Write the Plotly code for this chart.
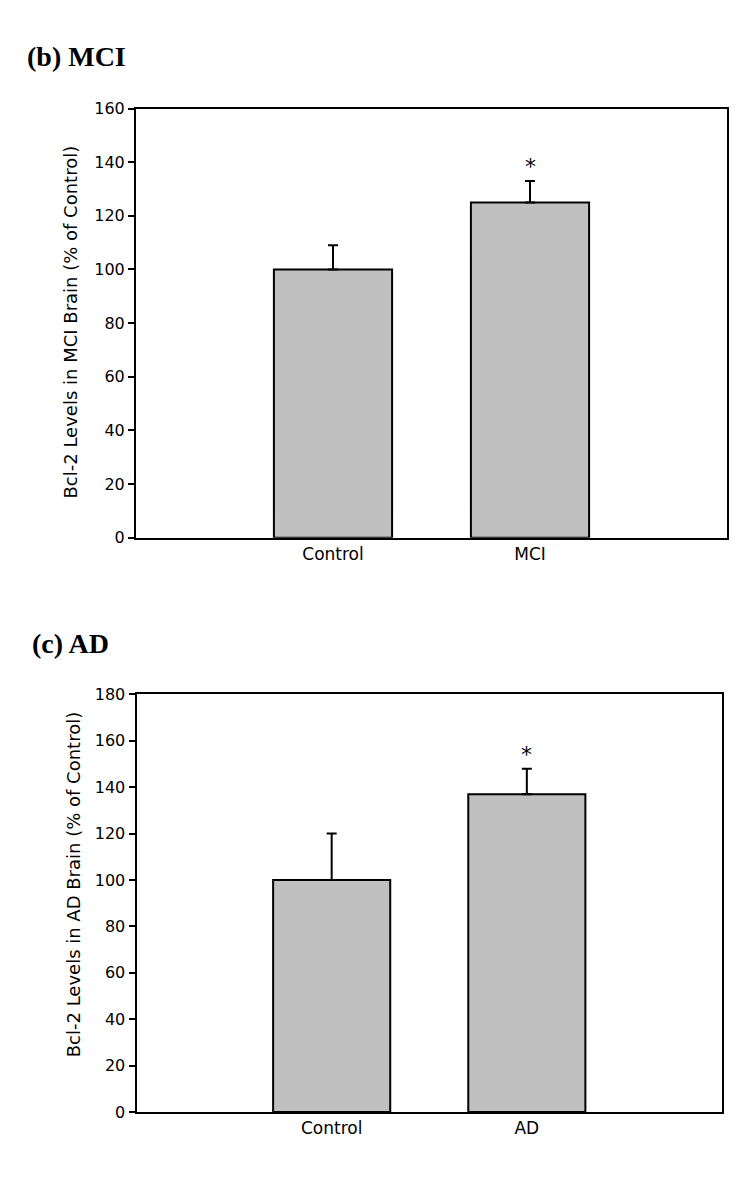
import plotly.graph_objects as go

# ---- data ----
mci_categories = ["Control", "MCI"]
mci_values = [100, 125]
mci_errors = [9, 8]
mci_sig = [False, True]

ad_categories = ["Control", "AD"]
ad_values = [100, 137]
ad_errors = [20, 11]
ad_sig = [False, True]

mci_yticks = [0, 20, 40, 60, 80, 100, 120, 140, 160]
ad_yticks = [0, 20, 40, 60, 80, 100, 120, 140, 160, 180]

W, H = 750, 1179
font_fam = "DejaVu Sans, Arial, sans-serif"
bar_color = "#c0c0c0"

fig = go.Figure()

fig.add_trace(go.Bar(
    x=mci_categories, y=mci_values, width=0.6,
    marker=dict(color=bar_color, line=dict(color="black", width=2)),
    error_y=dict(type="data", array=mci_errors, arrayminus=[0] * len(mci_errors),
                 symmetric=False, color="black", thickness=2, width=5),
    xaxis="x", yaxis="y", showlegend=False,
))
fig.add_trace(go.Bar(
    x=ad_categories, y=ad_values, width=0.6,
    marker=dict(color=bar_color, line=dict(color="black", width=2)),
    error_y=dict(type="data", array=ad_errors, arrayminus=[0] * len(ad_errors),
                 symmetric=False, color="black", thickness=2, width=5),
    xaxis="x2", yaxis="y2", showlegend=False,
))

axis_common = dict(showline=True, linecolor="black", linewidth=2, mirror=True,
                   showgrid=False, zeroline=False)

fig.update_layout(
    width=W, height=H,
    margin=dict(l=0, r=0, t=0, b=0),
    paper_bgcolor="white", plot_bgcolor="white",
    font=dict(family=font_fam, color="black"),
    xaxis=dict(domain=[128 / W, 719 / W], range=[-1, 2], anchor="y",
               ticks="", tickfont=dict(size=17), **axis_common),
    yaxis=dict(domain=[1 - 529.3 / H, 1 - 93 / H], range=[0, 160], anchor="x",
               tickvals=mci_yticks, ticks="outside", ticklen=6, tickwidth=2,
               tickcolor="black", tickfont=dict(size=16), **axis_common),
    xaxis2=dict(domain=[128.5 / W, 714 / W], range=[-1, 2], anchor="y2",
                ticks="", tickfont=dict(size=17), **axis_common),
    yaxis2=dict(domain=[1 - 1113 / H, 1 - 688.5 / H], range=[0, 180], anchor="x2",
                tickvals=ad_yticks, ticks="outside", ticklen=6, tickwidth=2,
                tickcolor="black", tickfont=dict(size=16), **axis_common),
)

annotations = [
    dict(text="<b>(b) MCI</b>", xref="paper", yref="paper", x=17 / W, y=1 - 22 / H,
         xanchor="left", yanchor="top", showarrow=False,
         font=dict(family="Liberation Serif, Times New Roman, serif", size=28)),
    dict(text="<b>(c) AD</b>", xref="paper", yref="paper", x=22 / W, y=1 - 619 / H,
         xanchor="left", yanchor="top", showarrow=False,
         font=dict(family="Liberation Serif, Times New Roman, serif", size=28)),
    dict(text="Bcl-2 Levels in MCI Brain (% of Control)", xref="paper", yref="paper",
         x=62.5 / W, y=1 - 310 / H, textangle=-90, showarrow=False,
         xanchor="center", yanchor="middle", font=dict(size=18)),
    dict(text="Bcl-2 Levels in AD Brain (% of Control)", xref="paper", yref="paper",
         x=65.5 / W, y=1 - 882 / H, textangle=-90, showarrow=False,
         xanchor="center", yanchor="middle", font=dict(size=18)),
]
for cat, v, e, s in zip(mci_categories, mci_values, mci_errors, mci_sig):
    if s:
        annotations.append(dict(text="*", x=cat, y=v + e, xref="x", yref="y",
                                showarrow=False, yanchor="bottom", yshift=0,
                                font=dict(size=22)))
for cat, v, e, s in zip(ad_categories, ad_values, ad_errors, ad_sig):
    if s:
        annotations.append(dict(text="*", x=cat, y=v + e, xref="x2", yref="y2",
                                showarrow=False, yanchor="bottom", yshift=0,
                                font=dict(size=22)))
fig.update_layout(annotations=annotations)

fig.write_html("out.html")
